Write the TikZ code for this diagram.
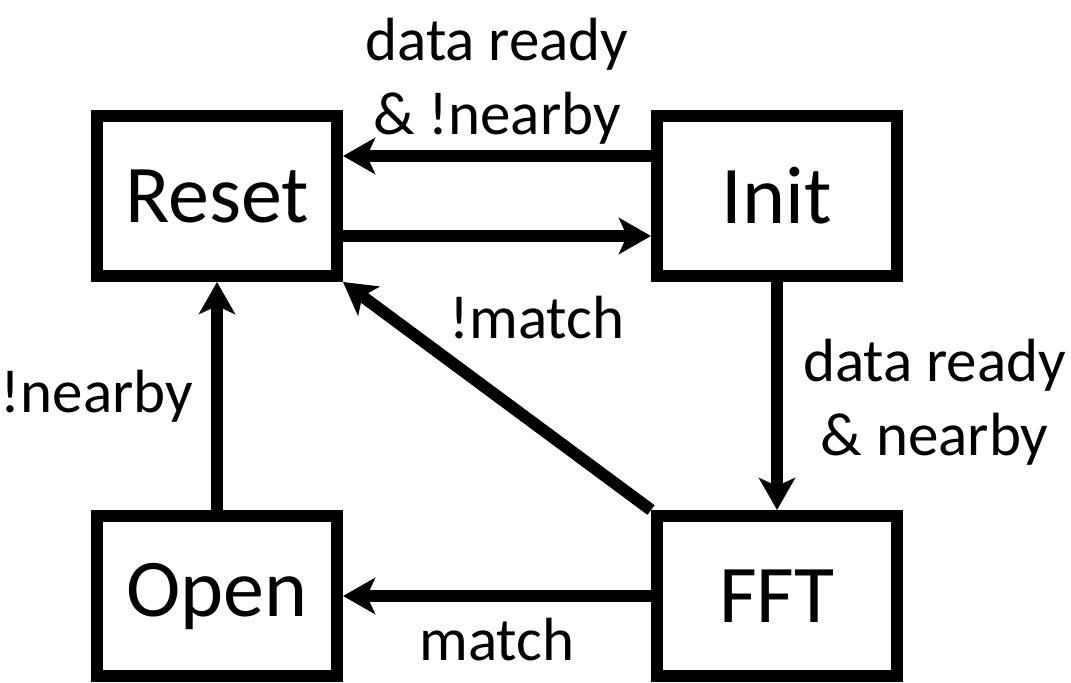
\documentclass[tikz,border=0pt]{standalone}
\usepackage{fontspec}
\setmainfont{Carlito}
\usetikzlibrary{arrows.meta}

\tikzset{
  state/.style={draw, line width=6pt, minimum width=120pt, minimum height=80pt,
    inner sep=0pt, font=\fontsize{41}{48}\selectfont},
  trans/.style={line width=6pt, -{Stealth[length=16pt, width=18pt, inset=4pt]}},
  lbl/.style={font=\fontsize{30.5}{37}\selectfont, align=center, inner sep=0pt}
}

\begin{document}
\begin{tikzpicture}[x=0.5pt, y=0.5pt]

\useasboundingbox (0,0) rectangle (1071,682);

\node[state] (reset) at (217,486) {Reset};
\node[state] (init) at (777,486) {Init};
\node[state] (open) at (217,86) {Open};
\node[state] (fft) at (777,86) {FFT};

\draw[trans] ([yshift=20pt]init.west) -- ([yshift=20pt]reset.east)
  node[lbl, midway, above, yshift=3pt] {data ready\\\& !nearby};
\draw[trans] ([yshift=-20pt]reset.east) -- ([yshift=-20pt]init.west);
\draw[trans] (init) -- (fft)
  node[lbl, midway, right, xshift=10pt, yshift=-3pt] {data ready\\\& nearby};
\draw[trans] (fft) -- (open)
  node[lbl, midway, below, yshift=-8pt] {match};
\draw[trans] (open) -- (reset)
  node[lbl, midway, left, xshift=-9pt, yshift=0pt] {!nearby};
\draw[trans] (fft.north west) -- (reset.south east)
  node[lbl, midway, xshift=20pt, yshift=39pt] {!match};

\end{tikzpicture}
\end{document}
